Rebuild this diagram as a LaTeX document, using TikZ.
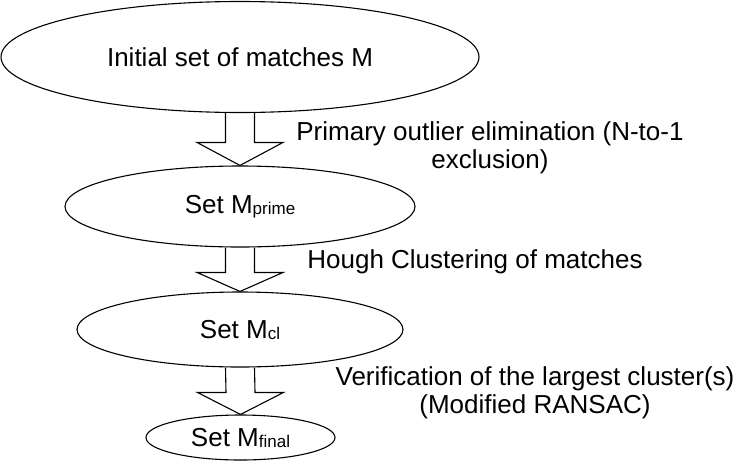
\documentclass[tikz,border=0pt]{standalone}
\usepackage{fontspec}
\setmainfont{Liberation Sans}
\usetikzlibrary{shapes.geometric}
\newcommand{\subtxt}[1]{\raisebox{-1pt}{\fontsize{17}{17}\selectfont #1}}
\newcommand{\blockarrow}[3]{%
  \draw[blk] ([xshift=-14.5pt]#1.south) -- ([xshift=-14.5pt,yshift=#3]#2.north)
    -- ([xshift=-43pt,yshift=#3]#2.north) -- (#2.north)
    -- ([xshift=43pt,yshift=#3]#2.north) -- ([xshift=14.5pt,yshift=#3]#2.north)
    -- ([xshift=14.5pt]#1.south);}
\begin{document}
\begin{tikzpicture}[x=1pt,y=-1pt,
  every node/.style={font=\fontsize{26}{28}\selectfont},
  oval/.style={draw, ellipse, line width=1.1pt, inner sep=0pt},
  lbl/.style={align=center, inner sep=0pt, anchor=base},
  blk/.style={draw, line width=1.1pt, line join=miter}]
\useasboundingbox (0,0) rectangle (746,461);
\node[oval, minimum width=478pt, minimum height=111pt] (e1) at (240,57) {Initial set of matches M};
\node[oval, minimum width=350pt, minimum height=81pt] (e2) at (240,206.5) {Set M\subtxt{prime}};
\node[oval, minimum width=326pt, minimum height=75pt] (e3) at (240,329.5) {Set M\subtxt{cl}};
\node[oval, minimum width=189pt, minimum height=45pt] (e4) at (240.5,437.5) {Set M\subtxt{final}};
\blockarrow{e1}{e2}{23pt}
\blockarrow{e2}{e3}{19pt}
\blockarrow{e3}{e4}{22pt}
\node[lbl] (l1) at (490,168) {Primary outlier elimination (N-to-1\\exclusion)};
\node[lbl] (l2) at (475,268) {Hough Clustering of matches};
\node[lbl] (l3) at (535,413) {Verification of the largest cluster(s)\\(Modified RANSAC)};
\end{tikzpicture}
\end{document}
